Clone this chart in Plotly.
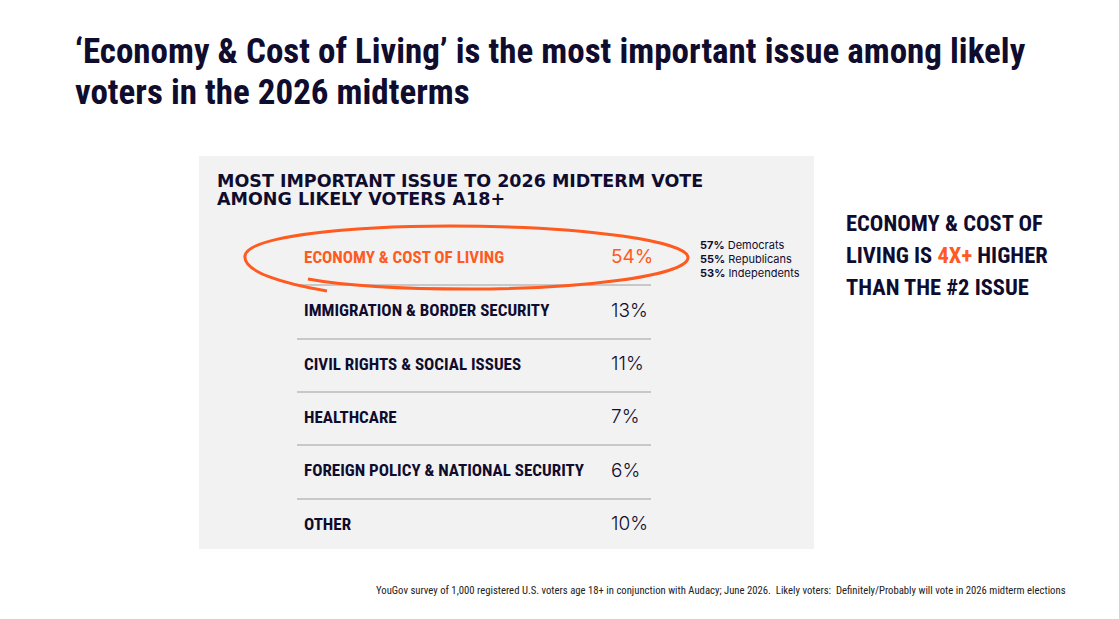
import plotly.graph_objects as go

W, H = 1119, 619

NAVY = "#100C2E"
ORANGE = "#FF5A1F"
COND = "Noto Sans ExtraCondensed, Noto Sans Condensed, Roboto Condensed, Roboto, sans-serif"
GEO = "Inter, Lato, sans-serif"
WIDE = "DejaVu Sans, Inter, sans-serif"

# data
issues = ["ECONOMY & COST OF LIVING", "IMMIGRATION & BORDER SECURITY",
          "CIVIL RIGHTS & SOCIAL ISSUES", "HEALTHCARE",
          "FOREIGN POLICY & NATIONAL SECURITY", "OTHER"]
shares = [54, 13, 11, 7, 6, 10]
parties = ["Democrats", "Republicans", "Independents"]
party_shares = [57, 55, 53]

title_lines = ["‘Economy & Cost of Living’ is the most important issue among likely",
               "voters in the 2026 midterms"]
chart_title = ["MOST IMPORTANT ISSUE TO 2026 MIDTERM VOTE", "AMONG LIKELY VOTERS A18+"]
footnote = ("YouGov survey of 1,000 registered U.S. voters age 18+ in conjunction with Audacy; June 2026.  "
            "Likely voters:  Definitely/Probably will vote in 2026 midterm elections")


def px(x):
    return x / W


def py(y):
    return 1 - y / H


row_colors = [ORANGE] + [NAVY] * (len(issues) - 1)

fig = go.Figure()
fig.add_trace(go.Scatter(
    x=[0.02] * len(issues), y=issues, mode="text", text=issues,
    textposition="middle right", hoverinfo="skip",
    textfont=dict(family=COND, size=17, color=row_colors, weight="bold")))
fig.add_trace(go.Scatter(
    x=[0.887] * len(issues), y=issues, mode="text",
    text=[f"{v}%" for v in shares], textposition="middle right", hoverinfo="skip",
    textfont=dict(family=GEO, size=19, color=row_colors, weight=[400] + [300] * 5)))

shapes = [dict(type="rect", xref="paper", yref="paper", x0=px(199), x1=px(814),
               y0=py(549), y1=py(156), fillcolor="#F2F2F2", line_width=0, layer="below")]

# hand drawn ring round the top row
pts = [(327, 291), (285, 284), (243, 272), (245, 256),
       (248, 236), (350, 226), (450, 226),
       (590, 226), (690, 242), (688, 258),
       (686, 276), (580, 289), (470, 289),
       (390, 289), (335, 284), (308, 279)]
path = "M %.4f,%.4f" % (px(pts[0][0]), py(pts[0][1]))
for i in range(1, len(pts), 3):
    seg = pts[i:i + 3]
    path += " C " + " ".join("%.4f,%.4f" % (px(a), py(b)) for a, b in seg)
shapes.append(dict(type="path", xref="paper", yref="paper", path=path,
                   line=dict(color=ORANGE, width=3)))

ann = []
for i, line in enumerate(title_lines):
    ann.append(dict(x=px(73), y=py(51 + i * 42), xref="paper", yref="paper", text=line,
                    showarrow=False, xanchor="left", yanchor="middle",
                    font=dict(family=COND, size=35, color=NAVY, weight="bold")))
for i, line in enumerate(chart_title):
    ann.append(dict(x=px(215), y=py(181 + i * 18), xref="paper", yref="paper", text=line,
                    showarrow=False, xanchor="left", yanchor="middle",
                    font=dict(family=WIDE, size=17.5, color=NAVY, weight="bold")))
for i, (p, v) in enumerate(zip(parties, party_shares)):
    ann.append(dict(x=px(698), y=py(245 + i * 14), xref="paper", yref="paper",
                    text=f"<b>{v}%</b> {p}", showarrow=False, xanchor="left", yanchor="middle",
                    font=dict(family=GEO, size=11, color=NAVY)))
callout = ["ECONOMY & COST OF",
           f"LIVING IS <span style='color:{ORANGE}'>4X+</span> HIGHER",
           "THAN THE #2 ISSUE"]
for i, line in enumerate(callout):
    ann.append(dict(x=px(844), y=py(223 + i * 32), xref="paper", yref="paper", text=line,
                    showarrow=False, xanchor="left", yanchor="middle",
                    font=dict(family=COND, size=22.5, color=NAVY, weight="bold")))
ann.append(dict(x=px(1068), y=py(590), xref="paper", yref="paper", text=footnote,
                showarrow=False, xanchor="right", yanchor="middle",
                font=dict(family=COND, size=10.7, color="#222222")))

fig.update_layout(
    width=W, height=H, margin=dict(l=0, r=0, t=0, b=0),
    paper_bgcolor="white", plot_bgcolor="rgba(0,0,0,0)",
    showlegend=False, shapes=shapes, annotations=ann,
    xaxis=dict(domain=[px(297), px(651)], range=[0, 1], showgrid=False, zeroline=False,
               showticklabels=False, ticks="", showline=False, fixedrange=True),
    yaxis=dict(domain=[py(552), py(232)], type="category", categoryarray=issues,
               range=[5.5, -0.5], tickson="boundaries", showgrid=True,
               gridcolor="#C8C8C8", gridwidth=1.5, showticklabels=False, ticks="",
               zeroline=False, showline=False, fixedrange=True),
)

# page has a default body margin; drop it so the figure sits at the top-left corner
fig.write_html("out.html", config={"displayModeBar": False},
               post_script="document.body.style.margin='0';")
